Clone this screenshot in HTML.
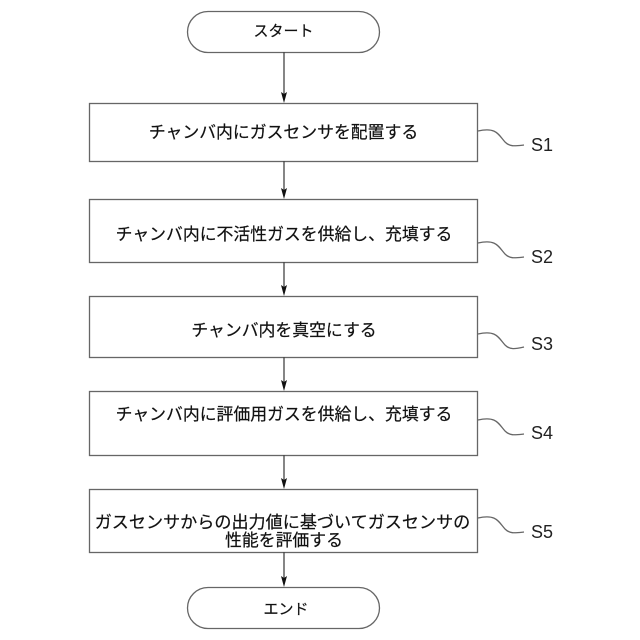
<!DOCTYPE html>
<html><head><meta charset="utf-8">
<style>html,body{margin:0;padding:0;background:#fff}svg{display:block}
text{font-family:"Liberation Sans","Noto Sans CJK JP",sans-serif;fill:#111;font-size:16.85px;stroke:#111;stroke-width:.2px}
.c{text-anchor:middle}
.s{font-size:18px;fill:#222;stroke:none}
</style></head><body>
<svg width="640" height="640" viewBox="0 0 640 640" xmlns="http://www.w3.org/2000/svg">
<g fill="none" stroke="#666" stroke-width="1.3">
<rect x="187.500" y="11.500" width="192" height="41" rx="20.500"/>
<rect x="89.500" y="103.500" width="388" height="58"/>
<rect x="89.500" y="199.500" width="388" height="63"/>
<rect x="89.500" y="296.500" width="388" height="61"/>
<rect x="89.500" y="391.500" width="388" height="64"/>
<rect x="89.500" y="489.500" width="388" height="63"/>
<rect x="187.500" y="587.500" width="192" height="41" rx="20.500"/>
<path d="M284 52V98M284 161V194M284 262V291M284 357V386M284 455V484M284 552V582" stroke="#444"/>
<path d="M478 131C496 127 498 134 505 142C510 147 515 146 524 145"/>
<path d="M478 243C496 239 498 246 505 254C510 259 515 258 524 257"/>
<path d="M478 334C496 330 498 337 505 345C510 350 515 349 524 347"/>
<path d="M478 420C496 416 498 423 505 431C510 436 515 435 524 434"/>
<path d="M478 518C496 514 498 521 505 529C510 534 515 533 524 532"/>
</g>
<g fill="#111">
<path d="M281 92L284 103L287 92L284 94Z"/>
<path d="M281 188L284 199L287 188L284 190Z"/>
<path d="M281 285L284 296L287 285L284 287Z"/>
<path d="M281 380L284 391L287 380L284 382Z"/>
<path d="M281 478L284 489L287 478L284 480Z"/>
<path d="M281 576L284 587L287 576L284 578Z"/>
</g>
<text class="c" x="283.500" y="36" style="font-size:15px">スタート</text>
<text class="c" x="283.500" y="138">チャンバ内にガスセンサを配置する</text>
<text class="c" x="284" y="240">チャンバ内に不活性ガスを供給し、充填する</text>
<text class="c" x="284" y="336">チャンバ内を真空にする</text>
<text class="c" x="284" y="420">チャンバ内に評価用ガスを供給し、充填する</text>
<text class="c" x="282.500" y="528" style="font-size:17.1px">ガスセンサからの出力値に基づいてガスセンサの</text>
<text class="c" x="284" y="546">性能を評価する</text>
<text class="c" x="286" y="614" style="font-size:15px">エンド</text>
<text class="s" x="531" y="151">S1</text>
<text class="s" x="531" y="263">S2</text>
<text class="s" x="531" y="350">S3</text>
<text class="s" x="531" y="439">S4</text>
<text class="s" x="531" y="538">S5</text>
</svg>
</body></html>
